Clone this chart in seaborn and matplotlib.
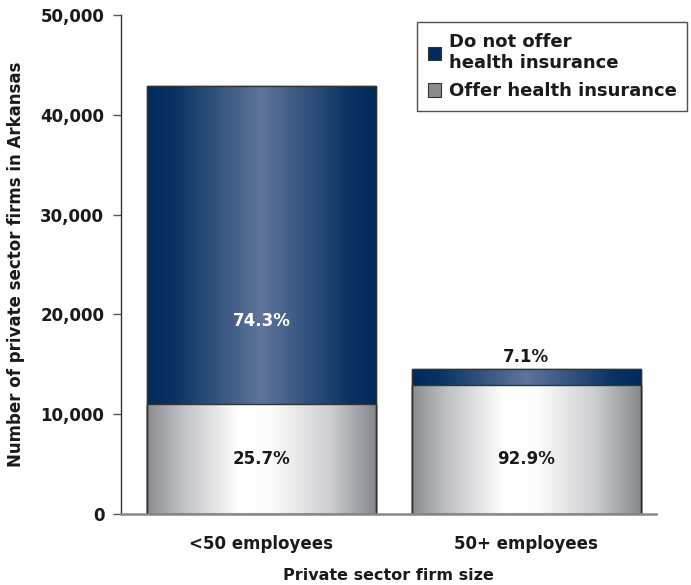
import matplotlib
matplotlib.use("Agg")
import matplotlib.pyplot as plt
from matplotlib.colors import LinearSegmentedColormap
from matplotlib.patches import Patch
import numpy as np
import pandas as pd
import seaborn as sns

# dati
firm_size = ["<50 employees", "50+ employees"]
offer = [11000, 12900]
not_offer = [31900, 1650]
pct_offer = ["25.7%", "92.9%"]
pct_not_offer = ["74.3%", "7.1%"]

df = pd.DataFrame({"size": firm_size, "offer": offer, "not_offer": not_offer})
df["total"] = df["offer"] + df["not_offer"]

sns.set_style("white")
plt.rcParams["font.family"] = ["DejaVu Sans"]
plt.rcParams["font.weight"] = "bold"

navy = "#002b5c"
grey = "#8a8b8f"
txt = "#1a1a1a"

navy_cmap = LinearSegmentedColormap.from_list(
    "navy", [(0, "#002a5c"), (0.12, "#0a3363"), (0.5, "#5f759a"), (0.88, "#0a3363"), (1, "#002a5c")])
grey_cmap = LinearSegmentedColormap.from_list(
    "grey", [(0, "#8b8c90"), (0.15, "#bfc0c3"), (0.4, "#ffffff"), (0.55, "#fcfcfc"),
             (0.8, "#cdced1"), (1, "#88898d")])

fig = plt.figure(figsize=(6.91, 5.85), dpi=100)
ax = fig.add_axes([0.175, 0.1214, 0.774, 0.853])

bw = 0.864
sns.barplot(data=df, x="size", y="total", color=navy, width=bw, ax=ax,
            edgecolor="#333333", linewidth=1, saturation=1)
sns.barplot(data=df, x="size", y="offer", color=grey, width=bw, ax=ax,
            edgecolor="#333333", linewidth=1, saturation=1)

grad = np.linspace(0, 1, 256).reshape(1, -1)
n = len(firm_size)
for i, p in enumerate(ax.patches):
    cmap = navy_cmap if i < n else grey_cmap
    x0, y0 = p.get_x(), p.get_y()
    w, h = p.get_width(), p.get_height()
    im = ax.imshow(grad, cmap=cmap, aspect="auto", extent=[x0, x0 + w, y0, y0 + h],
                   zorder=p.get_zorder() + 0.1, interpolation="bicubic")
    im.set_clip_path(p)
    # bordo sopra il gradiente
    ax.add_patch(plt.Rectangle((x0, y0), w, h, fill=False, edgecolor="#333333",
                               linewidth=1, zorder=p.get_zorder() + 0.2))

# etichette percentuali (quelle grigie alla stessa altezza)
y_grey = min(offer) / 2
for i in range(n):
    ax.text(i, y_grey, pct_offer[i], ha="center", va="center",
            fontsize=12, fontweight="bold", color=txt, zorder=5)
    if not_offer[i] > 5000:
        ax.text(i, offer[i] + not_offer[i] * 0.26, pct_not_offer[i], ha="center", va="center",
                fontsize=12, fontweight="bold", color="white", zorder=5)
    else:
        ax.text(i, offer[i] + not_offer[i] + 1200, pct_not_offer[i], ha="center", va="center",
                fontsize=12, fontweight="bold", color=txt, zorder=5)

ax.set_xlim(-0.53, 1.489)
ax.set_ylim(0, 50000)
ax.set_yticks(range(0, 50001, 10000))
ax.set_yticklabels([f"{v:,}" for v in range(0, 50001, 10000)])
ax.tick_params(axis="y", length=6, width=1, color="#555555", pad=6, labelsize=12,
               labelcolor=txt, left=True)
ax.tick_params(axis="x", length=0, pad=15, labelsize=12, labelcolor=txt)

ax.set_xlabel("Private sector firm size", fontsize=11.5, fontweight="bold", color=txt, labelpad=11)
ax.set_ylabel("Number of private sector firms in Arkansas", fontsize=12, fontweight="bold",
              color=txt, labelpad=11)

for s in ["top", "right"]:
    ax.spines[s].set_visible(False)
ax.spines["left"].set_color("#333333")
ax.spines["left"].set_linewidth(1)
ax.spines["bottom"].set_color("#888888")
ax.spines["bottom"].set_linewidth(1.8)

handles = [Patch(facecolor=navy, edgecolor="#333333", linewidth=0.8, label="Do not offer\nhealth insurance"),
           Patch(facecolor=grey, edgecolor="#333333", linewidth=0.8, label="Offer health insurance")]
leg = ax.legend(handles=handles, loc="upper right", bbox_to_anchor=(1.059, 0.986),
                prop={"size": 13, "weight": "bold"}, frameon=True, fancybox=False,
                handlelength=0.75, handleheight=0.75, handletextpad=0.4, labelspacing=0.55,
                borderpad=0.6, borderaxespad=0)
leg.get_frame().set_edgecolor("#222222")
leg.get_frame().set_linewidth(1)
for t in leg.get_texts():
    t.set_color(txt)
    t.set_linespacing(1.25)

fig.savefig("out.png", dpi=100)
